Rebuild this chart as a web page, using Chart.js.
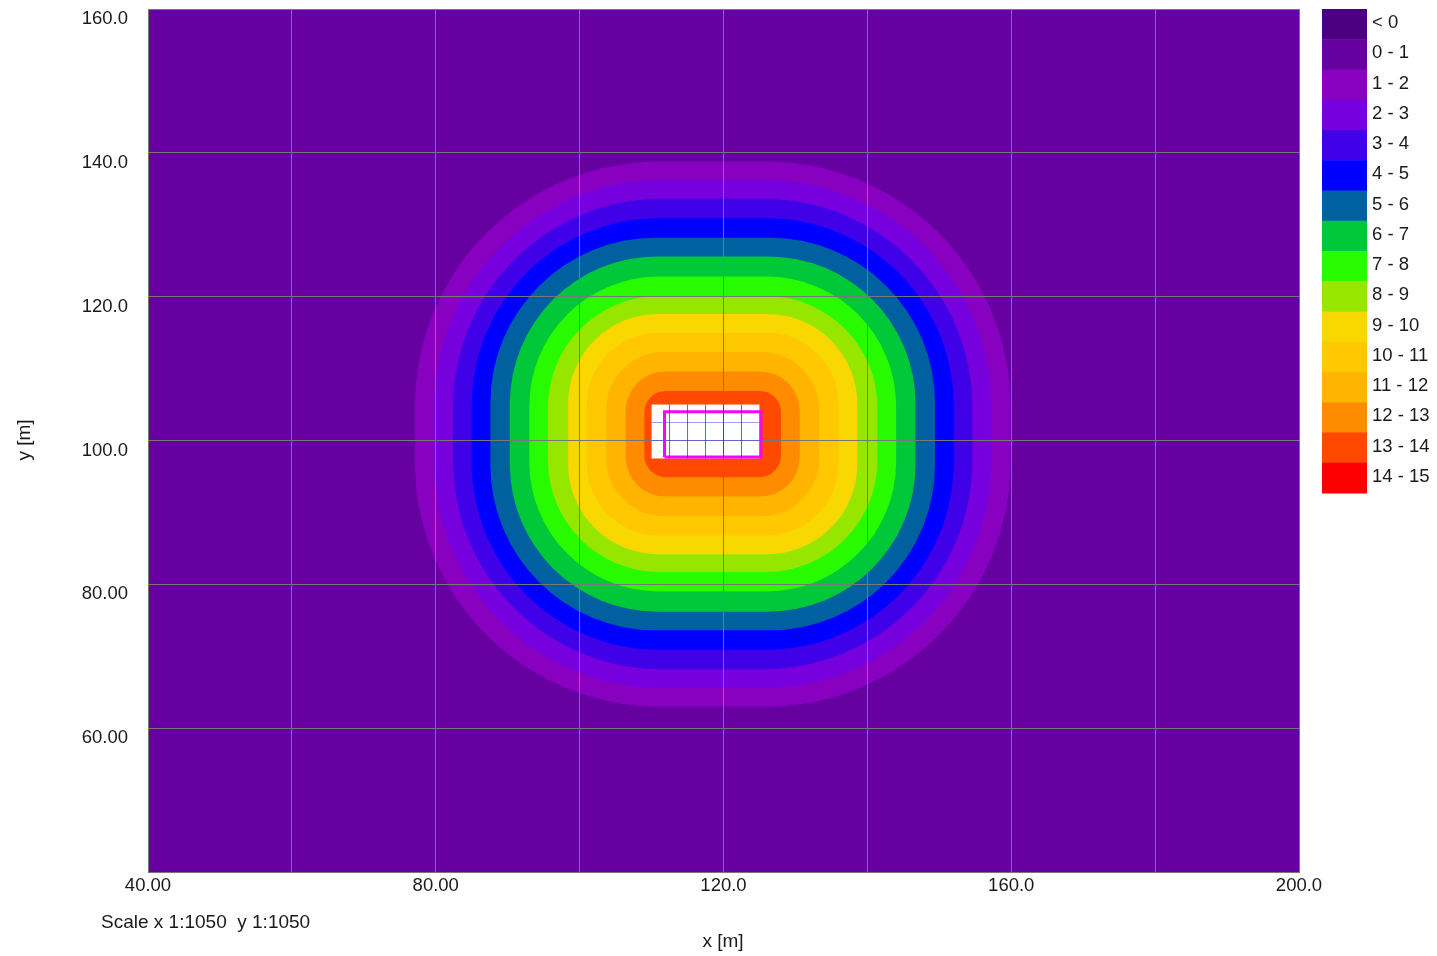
<!DOCTYPE html>
<html>
<head>
<meta charset="utf-8">
<script src="https://cdn.jsdelivr.net/npm/chart.js@4.4.0/dist/chart.umd.min.js"></script>
<style>
  body { margin: 0; background: #fff; }
  #wrap { width: 1437px; height: 956px; position: relative; }
</style>
</head>
<body>
<div id="wrap"><canvas id="myChart"></canvas></div>
<script>
const FONT = "'Liberation Sans', Arial, sans-serif";

// classes de la légende
const levelLabels = ['< 0', '0 - 1', '1 - 2', '2 - 3', '3 - 4', '4 - 5', '5 - 6', '6 - 7',
  '7 - 8', '8 - 9', '9 - 10', '10 - 11', '11 - 12', '12 - 13', '13 - 14', '14 - 15'];
const levelColors = ['#4B0082', '#6600A0', '#8800C0', '#7600DE', '#4000E8', '#0000FF', '#0060A0', '#00C838',
  '#28FA00', '#96E600', '#F8D800', '#FFC800', '#FFB400', '#FF8C00', '#FF4800', '#FF0000'];

// isolignes 1..13 (m)
const contourCenter = [118.5, 100.9];
const contourHalfW = [41.4, 38.7, 36.1, 33.5, 30.9, 28.2, 25.5, 22.9, 20.1, 17.5, 14.8, 12.1, 9.5];
const contourHalfH = [37.9, 35.3, 32.7, 30.0, 27.3, 24.7, 21.9, 19.2, 16.7, 14.1, 11.4, 8.7, 6.0];
const contourRadius = [34, 31.5, 29, 26, 23, 20.5, 18, 15.5, 12.5, 10, 8, 5.5, 3];

// zone de calcul + source
const gridAreaX = [110, 125];
const gridAreaY = [97.5, 105];
const gridLinesX = [112.5, 115, 117.5, 120, 122.5];
const gridLinesY = [100, 102.5];
const sourceX = [111.8, 125.2];
const sourceY = [97.7, 104];

const xTickValues = [40, 80, 120, 160, 200];
const xTickLabels = ['40.00', '80.00', '120.0', '160.0', '200.0'];
const yTickValues = [60, 80, 100, 120, 140, 160];
const yTickLabels = ['60.00', '80.00', '100.0', '120.0', '140.0', '160.0'];

function roundedRect(ctx, x, y, w, h, r) {
  r = Math.min(r, w / 2, h / 2);
  ctx.beginPath();
  ctx.moveTo(x + r, y);
  ctx.arcTo(x + w, y, x + w, y + h, r);
  ctx.arcTo(x + w, y + h, x, y + h, r);
  ctx.arcTo(x, y + h, x, y, r);
  ctx.arcTo(x, y, x + w, y, r);
  ctx.closePath();
}

// fond + bandes (sous la grille)
const contourPlugin = {
  id: 'contours',
  beforeDraw(chart) {
    const { ctx, chartArea: a, scales: { x, y } } = chart;
    const [cx, cy] = contourCenter;
    ctx.save();
    ctx.fillStyle = levelColors[1];
    ctx.fillRect(a.left, a.top, a.right - a.left, a.bottom - a.top);
    contourHalfW.forEach((hw, i) => {
      const hh = contourHalfH[i];
      const l = x.getPixelForValue(cx - hw), r = x.getPixelForValue(cx + hw);
      const t = y.getPixelForValue(cy + hh), b = y.getPixelForValue(cy - hh);
      const rad = x.getPixelForValue(cx + contourRadius[i]) - x.getPixelForValue(cx);
      roundedRect(ctx, l, t, r - l, b - t, rad);
      ctx.fillStyle = levelColors[i + 2];
      ctx.fill();
    });
    // zone de calcul blanche
    const gl = x.getPixelForValue(gridAreaX[0]), gr = x.getPixelForValue(gridAreaX[1]);
    const gt = y.getPixelForValue(gridAreaY[1]), gb = y.getPixelForValue(gridAreaY[0]);
    ctx.fillStyle = '#fff';
    ctx.fillRect(gl, gt, gr - gl, gb - gt);
    ctx.restore();
  },
  afterDraw(chart) {
    const ctx = chart.ctx;
    ctx.save();
    // légende
    const rowH = 30.25;
    ctx.font = '18.5px ' + FONT;
    levelLabels.forEach((lab, i) => {
      const top = 9 + i * rowH;
      ctx.fillStyle = levelColors[i];
      ctx.fillRect(1322, top, 45, rowH + 0.5);
      ctx.fillStyle = '#1a1a1a';
      ctx.textAlign = 'left';
      ctx.textBaseline = 'middle';
      ctx.fillText(lab, 1372, top + rowH / 2 - 1);
    });
    // titres
    ctx.font = '19px ' + FONT;
    ctx.textAlign = 'center';
    ctx.fillText('x [m]', 723, 942);
    ctx.textAlign = 'left';
    ctx.fillText('Scale x 1:1050  y 1:1050', 101, 923);
    ctx.translate(25, 440);
    ctx.rotate(-Math.PI / 2);
    ctx.textAlign = 'center';
    ctx.fillText('y [m]', 0, 0);
    ctx.restore();
  }
};

const lineSets = [];
gridLinesX.forEach(v => lineSets.push({
  data: [{ x: v, y: gridAreaY[0] }, { x: v, y: gridAreaY[1] }],
  borderColor: 'rgba(40,40,255,0.75)', borderWidth: 1
}));
gridLinesY.forEach(v => lineSets.push({
  data: [{ x: gridAreaX[0], y: v }, { x: gridAreaX[1], y: v }],
  borderColor: 'rgba(90,90,255,0.6)', borderWidth: 1
}));
lineSets.push({
  data: [
    { x: sourceX[0], y: sourceY[0] }, { x: sourceX[1], y: sourceY[0] },
    { x: sourceX[1], y: sourceY[1] }, { x: sourceX[0], y: sourceY[1] },
    { x: sourceX[0], y: sourceY[0] }
  ],
  borderColor: '#FF00FF', borderWidth: 3
});

const ctx = document.getElementById('myChart').getContext('2d');
new Chart(ctx, {
  type: 'scatter',
  data: {
    datasets: lineSets.map(d => Object.assign({ showLine: true, pointRadius: 0, fill: false, tension: 0 }, d))
  },
  options: {
    responsive: true,
    maintainAspectRatio: false,
    animation: false,
    layout: { padding: { left: 0, top: 9, right: 138, bottom: 0 } },
    plugins: { legend: { display: false }, tooltip: { enabled: false } },
    scales: {
      x: {
        type: 'linear', min: 40, max: 200,
        afterFit: s => { s.height = 84; s.paddingLeft = 0; s.paddingRight = 0; },
        ticks: {
          stepSize: 20, autoSkip: false, maxRotation: 0, padding: 3,
          color: '#1a1a1a', font: { family: FONT, size: 18.5 },
          callback: v => { const i = xTickValues.indexOf(v); return i < 0 ? '' : xTickLabels[i]; }
        },
        grid: { color: '#777777', drawTicks: false, lineWidth: 1 },
        border: { display: true, color: '#777777' }
      },
      y: {
        type: 'linear', min: 40, max: 160,
        afterFit: s => { s.width = 148; s.paddingTop = 0; s.paddingBottom = 0; },
        ticks: {
          stepSize: 20, autoSkip: false, padding: 20, labelOffset: 10,
          color: '#1a1a1a', font: { family: FONT, size: 18.5 },
          callback: v => { const i = yTickValues.indexOf(v); return i < 0 ? '' : yTickLabels[i]; }
        },
        grid: { color: '#777777', drawTicks: false, lineWidth: 1 },
        border: { display: true, color: '#777777' }
      }
    }
  },
  plugins: [contourPlugin]
});
</script>
</body>
</html>
